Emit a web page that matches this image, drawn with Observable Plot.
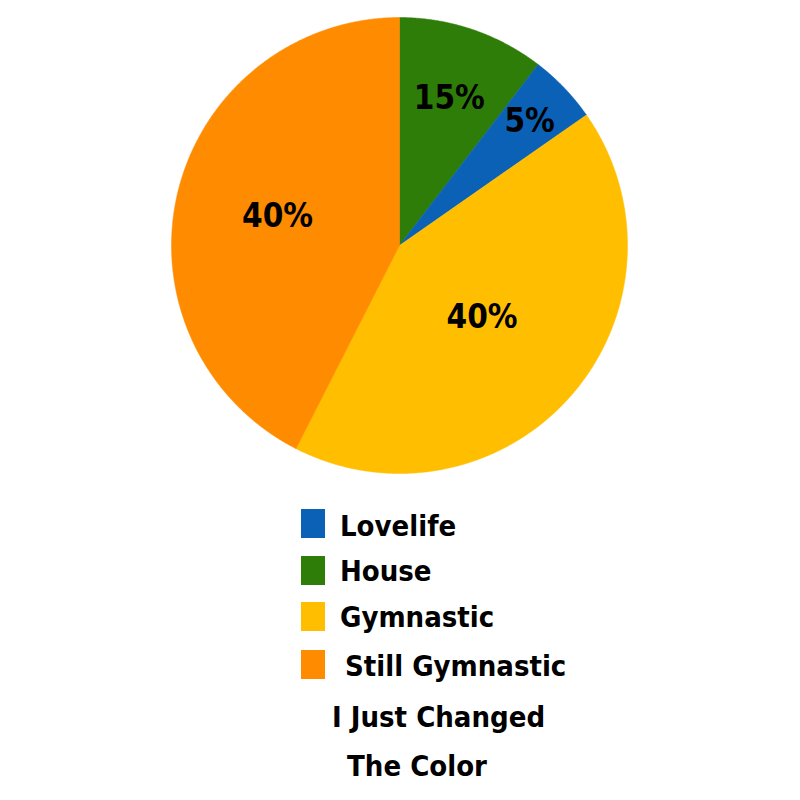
<!DOCTYPE html>
<html>
<head>
<meta charset="utf-8">
<script src="https://cdn.jsdelivr.net/npm/d3@7"></script>
<script src="https://cdn.jsdelivr.net/npm/@observablehq/plot@0.6"></script>
<style>
  html, body { margin: 0; padding: 0; background: #fff; }
  body { width: 800px; font-family: "DejaVu Sans Condensed", "DejaVu Sans", sans-serif; font-weight: bold; color: #000; }
  #legend { position: relative; width: 800px; height: 310px; }
  .sw { position: absolute; width: 24px; height: 29px; }
  .lt { position: absolute; font-size: 29px; line-height: 29px; white-space: nowrap; }
</style>
</head>
<body>
<div id="chart"></div>
<div id="legend"></div>
<script>
// Slices in drawing order (clockwise from 12 o'clock)
const categories = ["House", "Lovelife", "Gymnastic", "Still Gymnastic"];
const values = [10.4, 4.9, 42.2, 42.5];
const labels = ["15%", "5%", "40%", "40%"];
const colors = ["#2e7d08", "#0a61b5", "#ffbf00", "#ff8b00"];

// Legend order and text
const legendOrder = ["Lovelife", "House", "Gymnastic", "Still Gymnastic"];
const legendExtraLines = ["I Just Changed", "The Color"];

// styling: radial position of each percentage label (fraction of radius)
const labelRadius = [0.68, 0.79, 0.48, 0.55];

const total = d3.sum(values);
const pie = d3.pie().sort(null).value(d => d)(values);

const pts = [];
pie.forEach((s, i) => {
  pts.push({name: categories[i], u: 0, v: 0});
  const steps = Math.max(2, Math.ceil((s.endAngle - s.startAngle) / 0.005));
  for (let k = 0; k <= steps; k++) {
    const a = s.startAngle + (s.endAngle - s.startAngle) * k / steps;
    pts.push({name: categories[i], u: Math.sin(a), v: Math.cos(a)});
  }
  pts.push({name: categories[i], u: 0, v: 0});
});

const labelData = pie.map((s, i) => {
  const a = (s.startAngle + s.endAngle) / 2;
  const r = labelRadius[i];
  return {label: labels[i], u: r * Math.sin(a), v: r * Math.cos(a)};
});

const chart = Plot.plot({
  width: 800,
  height: 490,
  margin: 0,
  x: {domain: [-1, 1], range: [171, 627], axis: null},
  y: {domain: [-1, 1], range: [473, 17], axis: null},
  color: {domain: categories, range: colors},
  style: {background: "#fff"},
  marks: [
    Plot.line(pts, {x: "u", y: "v", z: "name", fill: "name", stroke: "name", strokeWidth: 0.5, curve: "linear"}),
    Plot.text(labelData, {
      x: "u", y: "v", text: "label",
      fontSize: 33, fontWeight: "bold",
      fontFamily: "'DejaVu Sans Condensed', 'DejaVu Sans', sans-serif",
      fill: "#000"
    })
  ]
});
document.getElementById("chart").appendChild(chart);

// Legend (HTML, below the SVG)
const legend = document.getElementById("legend");
const swTop = [19, 66, 112, 160];
const txtBase = [47, 92, 138, 187];
legendOrder.forEach((name, i) => {
  const sw = document.createElement("div");
  sw.className = "sw";
  sw.style.left = "301px";
  sw.style.top = swTop[i] + "px";
  sw.style.background = colors[categories.indexOf(name)];
  legend.appendChild(sw);
  const t = document.createElement("div");
  t.className = "lt";
  t.style.left = (i === 3 ? 345 : 340) + "px";
  t.style.top = (txtBase[i] - 25) + "px";
  t.textContent = name;
  legend.appendChild(t);
});
const extraLeft = [332, 347];
const extraBase = [238, 287];
legendExtraLines.forEach((line, j) => {
  const t = document.createElement("div");
  t.className = "lt";
  t.style.left = extraLeft[j] + "px";
  t.style.top = (extraBase[j] - 25) + "px";
  t.textContent = line;
  legend.appendChild(t);
});
</script>
</body>
</html>
